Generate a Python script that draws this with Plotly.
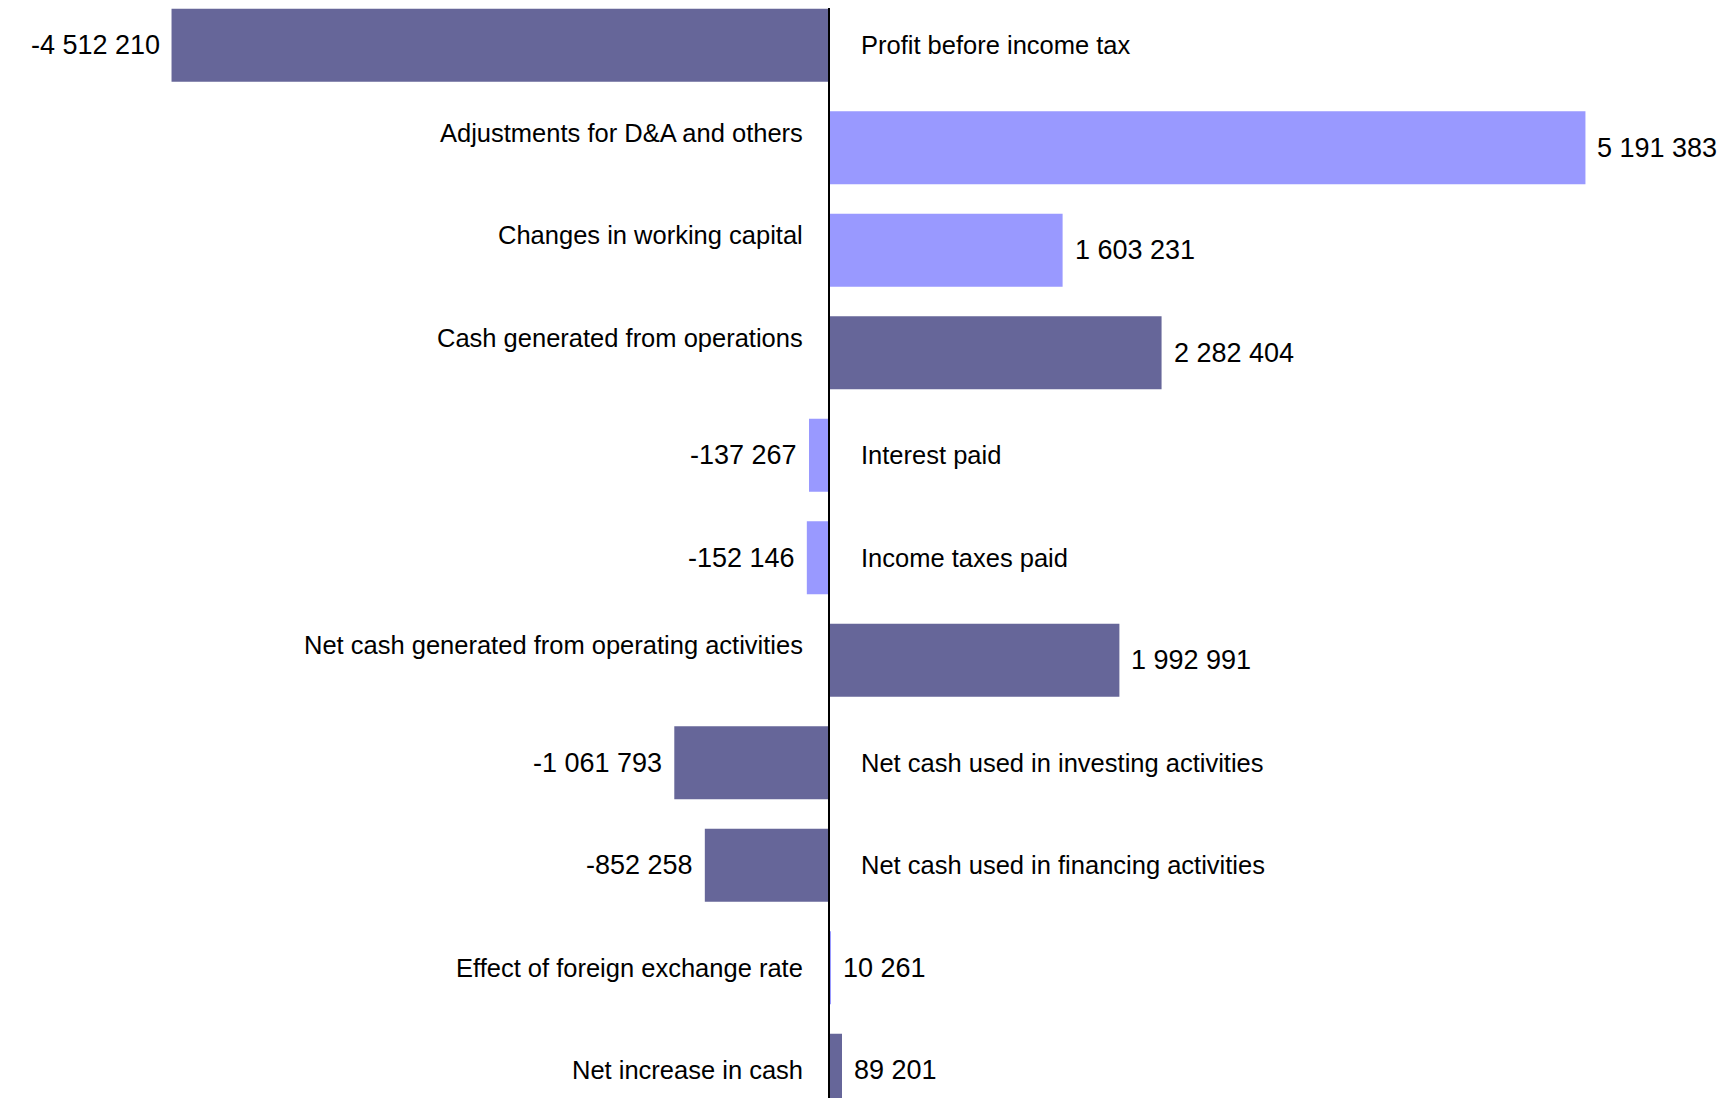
import plotly.graph_objects as go

categories = [
    "Profit before income tax",
    "Adjustments for D&A and others",
    "Changes in working capital",
    "Cash generated from operations",
    "Interest paid",
    "Income taxes paid",
    "Net cash generated from operating activities",
    "Net cash used in investing activities",
    "Net cash used in financing activities",
    "Effect of foreign exchange rate",
    "Net increase in cash",
]
values = [-4512210, 5191383, 1603231, 2282404, -137267, -152146,
          1992991, -1061793, -852258, 10261, 89201]
is_total = [True, False, False, True, False, False, True, True, True, False, True]

DARK = "#666699"
LIGHT = "#9999FF"
FAMILY = "Liberation Sans, Arial, sans-serif"
VAL_FONT = dict(family=FAMILY, size=27, color="#000000")
CAT_FONT = dict(family=FAMILY, size=25.5, color="#000000")


def fmt(v):
    return f"{v:,}".replace(",", " ")


colors = [DARK if t else LIGHT for t in is_total]

fig = go.Figure()
fig.add_trace(go.Bar(
    x=values, y=categories, orientation="h",
    marker=dict(color=colors, line=dict(width=0)),
    hoverinfo="skip",
))

annotations = []
for cat, v in zip(categories, values):
    pos = v >= 0
    # value label outside end of bar
    annotations.append(dict(
        x=v, y=cat, xref="x", yref="y", text=fmt(v), showarrow=False,
        xanchor="left" if pos else "right", xshift=10 if pos else -10,
        font=VAL_FONT,
    ))
    # category label on opposite side of the axis
    annotations.append(dict(
        x=0, y=cat, xref="x", yref="y", text=cat, showarrow=False,
        xanchor="right" if pos else "left", xshift=-24 if pos else 30,
        yshift=15 if pos and abs(v) > 500000 else 0,
        font=CAT_FONT,
    ))

# page body has an 8px margin; the figure is sized/ranged to compensate
fig.update_layout(
    width=1728, height=1090,
    margin=dict(l=0, r=0, t=0, b=0),
    paper_bgcolor="white", plot_bgcolor="white",
    showlegend=False,
    bargap=0.288,
    annotations=annotations,
    xaxis=dict(range=[-5.6345e6, 6.2247e6], visible=False, showgrid=False, zeroline=False),
    yaxis=dict(range=[10.27, -0.364], visible=False, showgrid=False, zeroline=False),
    shapes=[dict(type="line", xref="x", yref="paper", x0=0, x1=0,
                 y0=0, y1=1, line=dict(color="black", width=2))],
)

fig.write_html("out.html")
